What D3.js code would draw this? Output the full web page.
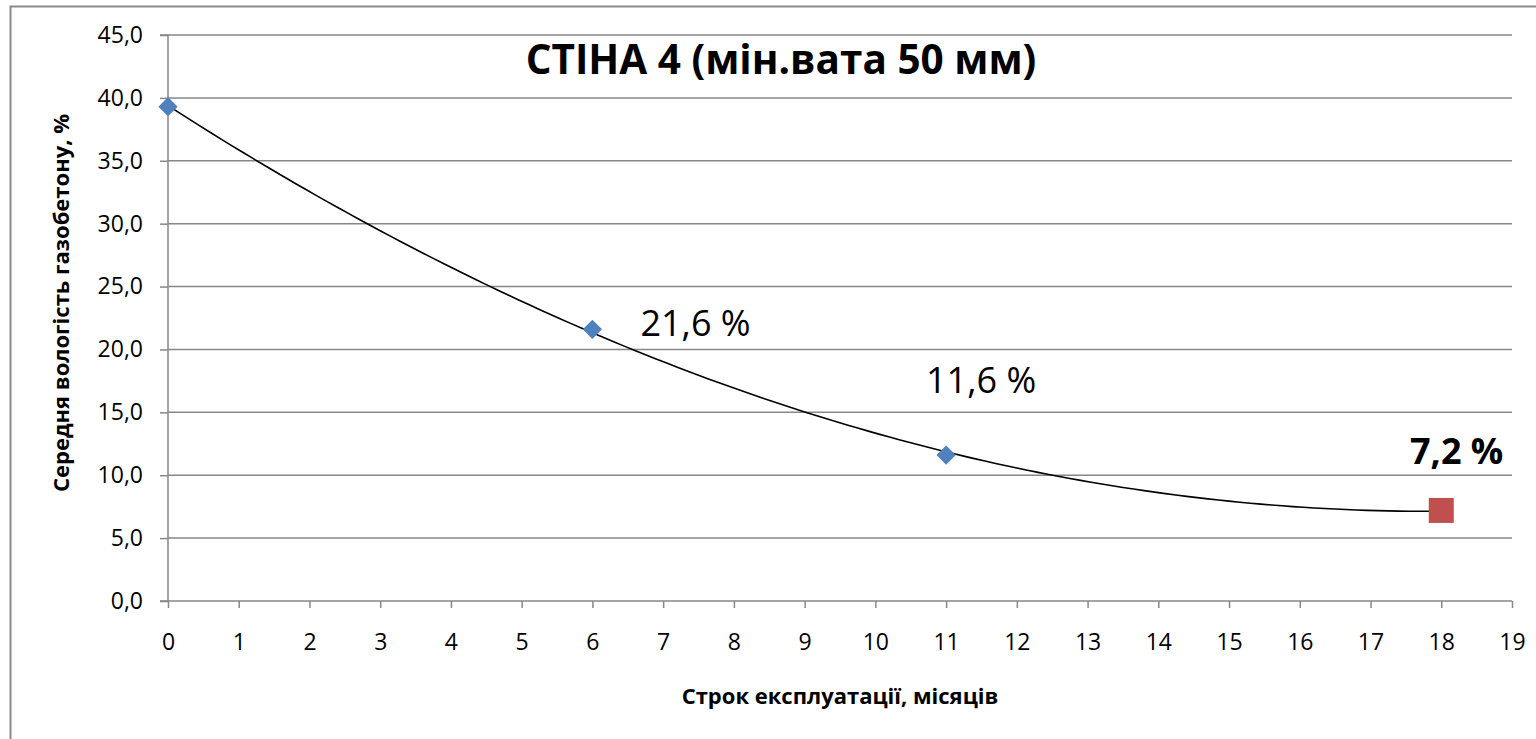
<!DOCTYPE html>
<html lang="uk">
<head>
<meta charset="utf-8">
<title>СТІНА 4 (мін.вата 50 мм)</title>
<script src="https://cdn.jsdelivr.net/npm/d3@7"></script>
<style>
  html, body { margin: 0; padding: 0; background: #ffffff; }
  svg { display: block; font-family: "Open Sans", "Noto Sans", sans-serif; }
</style>
</head>
<body>
<svg id="chart" width="1536" height="739"></svg>
<script>
// Measured moisture of aerated concrete, wall 4 (mineral wool 50 mm)
const months = [0, 6, 11];
const moisture = [39.3, 21.6, 11.6];
const finalMonth = [18];
const finalMoisture = [7.2];
const pointLabels = ["21,6 %", "11,6 %"];
const finalLabels = ["7,2 %"];
const xTicks = d3.range(0, 20, 1);
const yTicks = d3.range(0, 50, 5);

const titleText = "СТІНА 4 (мін.вата 50 мм)";
const xTitleText = "Строк експлуатації, місяців";
const yTitleText = "Середня вологість газобетону, %";

const plot = { left: 168, right: 1512, top: 35, bottom: 601 };
const gridColor = "#878787";

const svg = d3.select("#chart");

// chart area frame
svg.append("rect")
  .attr("x", 10.5).attr("y", 6.5)
  .attr("width", 1560).attr("height", 760)
  .attr("fill", "#ffffff")
  .attr("stroke", "#8a8a8a").attr("stroke-width", 2);

const x = d3.scaleLinear().domain([0, 19]).range([plot.left, plot.right]);
const y = d3.scaleLinear().domain([0, 45]).range([plot.bottom, plot.top]);

const uk = d3.formatLocale({ decimal: ",", thousands: " ", grouping: [3], currency: ["", " ₴"] });
const fmt1 = uk.format(".1f");

// horizontal gridlines
svg.append("g")
  .selectAll("line")
  .data(yTicks.filter(v => v > 0))
  .join("line")
  .attr("x1", plot.left).attr("x2", plot.right)
  .attr("y1", d => y(d)).attr("y2", d => y(d))
  .attr("stroke", gridColor).attr("stroke-width", 1.5);

// y axis
const yAxis = svg.append("g")
  .attr("transform", `translate(${plot.left},0)`)
  .call(d3.axisLeft(y).tickValues(yTicks).tickFormat(fmt1).tickSize(8).tickPadding(17));
yAxis.selectAll("path, line").attr("stroke", gridColor).attr("stroke-width", 1.5);
yAxis.select(".domain").attr("d", `M-8,${y(0)}H0V${y(45)}H-8`);
yAxis.selectAll("text")
  .attr("font-family", "Open Sans").attr("font-size", 23).attr("fill", "#000");

// x axis
const xAxis = svg.append("g")
  .attr("transform", `translate(0,${plot.bottom})`)
  .call(d3.axisBottom(x).tickValues(xTicks).tickFormat(d3.format("d")).tickSize(7).tickPadding(26));
xAxis.selectAll("path, line").attr("stroke", gridColor).attr("stroke-width", 1.5);
xAxis.select(".domain").attr("d", `M${x(0)},0H${x(19)}`);
xAxis.selectAll("text")
  .attr("font-family", "Open Sans").attr("font-size", 23).attr("fill", "#000");

// second-order polynomial trendline (least squares over all measurements)
const allX = months.concat(finalMonth);
const allY = moisture.concat(finalMoisture);
function polyFit2(xs, ys) {
  const s = k => d3.sum(xs, v => Math.pow(v, k));
  const t = k => d3.sum(xs, (v, i) => Math.pow(v, k) * ys[i]);
  const A = [[s(0), s(1), s(2)], [s(1), s(2), s(3)], [s(2), s(3), s(4)]];
  const b = [t(0), t(1), t(2)];
  // Gaussian elimination
  for (let i = 0; i < 3; i++) {
    for (let j = i + 1; j < 3; j++) {
      const f = A[j][i] / A[i][i];
      for (let k = i; k < 3; k++) A[j][k] -= f * A[i][k];
      b[j] -= f * b[i];
    }
  }
  const c = [0, 0, 0];
  for (let i = 2; i >= 0; i--) {
    let acc = b[i];
    for (let k = i + 1; k < 3; k++) acc -= A[i][k] * c[k];
    c[i] = acc / A[i][i];
  }
  return v => c[0] + c[1] * v + c[2] * v * v;
}
const trend = polyFit2(allX, allY);
const xMin = d3.min(allX), xMax = d3.max(allX);
const trendPts = d3.range(0, 121).map(i => xMin + (xMax - xMin) * i / 120);

svg.append("path")
  .datum(trendPts)
  .attr("fill", "none")
  .attr("stroke", "#000")
  .attr("stroke-width", 1.6)
  .attr("d", d3.line().x(d => x(d)).y(d => y(trend(d))));

// measured points
const diamond = d3.symbol(d3.symbolSquare, 185)();
svg.append("g")
  .selectAll("path")
  .data(months.map((m, i) => ({ m, v: moisture[i] })))
  .join("path")
  .attr("d", diamond)
  .attr("transform", d => `translate(${x(d.m)},${y(d.v)}) rotate(45)`)
  .attr("fill", "#4F81BD");

// final point
const square = d3.symbol(d3.symbolSquare, 625)();
svg.append("g")
  .selectAll("path")
  .data(finalMonth.map((m, i) => ({ m, v: finalMoisture[i] })))
  .join("path")
  .attr("d", square)
  .attr("transform", d => `translate(${x(d.m)},${y(d.v)})`)
  .attr("fill", "#C0504D");

// data labels (offsets from their points, in px)
const labelOffsets = [
  { dx: 48, dy: 7, anchor: "start" },
  { dx: 35, dy: -62, anchor: "middle" }
];
svg.append("g")
  .selectAll("text")
  .data(pointLabels.map((t, i) => ({ t, m: months[i + 1], v: moisture[i + 1], o: labelOffsets[i] })))
  .join("text")
  .attr("x", d => x(d.m) + d.o.dx)
  .attr("y", d => y(d.v) + d.o.dy)
  .attr("text-anchor", d => d.o.anchor)
  .attr("font-size", 36)
  .attr("fill", "#000")
  .text(d => d.t);

svg.append("g")
  .selectAll("text")
  .data(finalLabels.map((t, i) => ({ t, m: finalMonth[i], v: finalMoisture[i] })))
  .join("text")
  .attr("x", d => x(d.m) + 62)
  .attr("y", d => y(d.v) - 46)
  .attr("text-anchor", "end")
  .attr("font-size", 36)
  .attr("font-weight", "bold")
  .attr("fill", "#000")
  .text(d => d.t);

// title
svg.append("text")
  .attr("x", 781).attr("y", 74)
  .attr("text-anchor", "middle")
  .attr("font-size", 40.5).attr("font-weight", "bold")
  .attr("fill", "#000")
  .text(titleText);

// axis titles
svg.append("text")
  .attr("x", 840).attr("y", 704)
  .attr("text-anchor", "middle")
  .attr("font-size", 22).attr("font-weight", "bold")
  .attr("fill", "#000")
  .text(xTitleText);

svg.append("text")
  .attr("transform", `translate(69,303) rotate(-90)`)
  .attr("text-anchor", "middle")
  .attr("font-size", 22).attr("font-weight", "bold")
  .attr("fill", "#000")
  .text(yTitleText);
</script>
</body>
</html>
